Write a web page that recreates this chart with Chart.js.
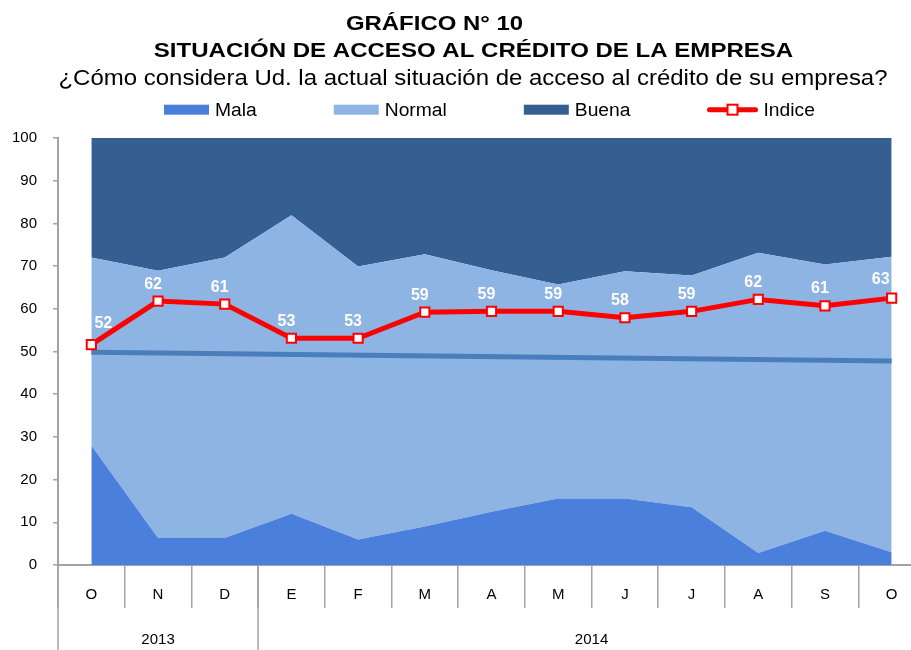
<!DOCTYPE html>
<html>
<head>
<meta charset="utf-8">
<script src="https://cdn.jsdelivr.net/npm/chart.js@4.4.0/dist/chart.umd.min.js"></script>
<style>
  html, body { margin: 0; padding: 0; overflow: hidden; background: #fff; }
  #contenedor { width: 940px; height: 650px; }
</style>
</head>
<body>
<div id="contenedor"><canvas id="grafico10"></canvas></div>
<script>
// datos
const meses = ['O', 'N', 'D', 'E', 'F', 'M', 'A', 'M', 'J', 'J', 'A', 'S', 'O'];
const anios = ['2013', '2014'];
const mesesPorAnio = [3, 10];

const mala   = [28, 6.3, 6.3, 12, 6, 9, 12.5, 15.6, 15.6, 13.5, 2.8, 8, 3];
const normal = [44, 62.6, 65.7, 69.9, 63.9, 63.8, 56.5, 50.1, 53.2, 54.3, 70.3, 62.4, 69.2];
const buena  = [28, 31.1, 28, 18.1, 30.1, 27.2, 31, 34.3, 31.2, 32.2, 26.9, 29.6, 27.8];
const indice = [51.6, 61.8, 61.1, 53.1, 53.1, 59.2, 59.4, 59.4, 57.9, 59.4, 62.2, 60.7, 62.5];
// linea de tendencia: solo extremos
const tendencia = [49.8, null, null, null, null, null, null, null, null, null, null, null, 47.8];

const yMin = 0, yMax = 100, yPaso = 10;

const titulo1 = 'GRÁFICO N° 10';
const titulo2 = 'SITUACIÓN DE ACCESO AL CRÉDITO DE LA EMPRESA';
const subtitulo = '¿Cómo considera Ud. la actual situación de acceso al crédito de su empresa?';

const FUENTE = 'Arial, "Liberation Sans", sans-serif';
const GRIS = '#a3a3a3';

// texto estirado en horizontal (el original esta ensanchado)
function textoAncho(ctx, txt, x, y, sx, align) {
  ctx.save();
  ctx.translate(x, y);
  ctx.scale(sx, 1);
  ctx.textAlign = align || 'center';
  ctx.fillText(txt, 0, 0);
  ctx.restore();
  return ctx.measureText(txt).width * sx;
}

const textosPlugin = {
  id: 'textos',
  afterDraw(chart) {
    const ctx = chart.ctx;
    ctx.save();
    ctx.fillStyle = '#000';
    ctx.textBaseline = 'alphabetic';
    ctx.font = 'bold 21px ' + FUENTE;
    textoAncho(ctx, titulo1, 434.5, 30, 1.14);
    textoAncho(ctx, titulo2, 473.5, 57, 1.145);
    ctx.font = '22px ' + FUENTE;
    textoAncho(ctx, subtitulo, 473, 85, 1.09);

    // leyenda
    ctx.font = '18px ' + FUENTE;
    let x = 164;
    const yc = 109.7;
    chart.data.datasets.forEach(ds => {
      if (!ds.label) return;
      let w = 45;
      if (ds.fill) {
        ctx.fillStyle = ds.backgroundColor;
        ctx.fillRect(x, yc - 5, 45, 10);
      } else {
        w = 50;
        ctx.strokeStyle = ds.borderColor;
        ctx.lineWidth = 5;
        ctx.lineCap = 'round';
        ctx.beginPath();
        ctx.moveTo(x + 2, yc);
        ctx.lineTo(x + w - 2, yc);
        ctx.stroke();
        ctx.fillStyle = '#fff';
        ctx.fillRect(x + w / 2 - 5, yc - 5, 10, 10);
        ctx.lineWidth = 2;
        ctx.strokeRect(x + w / 2 - 5, yc - 5, 10, 10);
      }
      ctx.fillStyle = '#000';
      const tw = textoAncho(ctx, ds.label, x + w + 6, 116, 1.07, 'left');
      x += w + 6 + tw + 77;
    });
    ctx.restore();
  }
};

// etiquetas del indice
const etiquetasPlugin = {
  id: 'etiquetasIndice',
  afterDatasetsDraw(chart) {
    const meta = chart.getDatasetMeta(3);
    const ctx = chart.ctx;
    const ult = meta.data.length - 1;
    ctx.save();
    ctx.font = 'bold 16px ' + FUENTE;
    ctx.fillStyle = '#fff';
    ctx.textAlign = 'center';
    ctx.textBaseline = 'middle';
    meta.data.forEach((p, i) => {
      let dx = -5, dy = -17;
      if (i === 0) { dx = 12; dy = -21; }
      if (i === ult) { dx = -11; dy = -19; }
      ctx.fillText(String(Math.round(indice[i])), p.x + dx, p.y + dy);
    });
    ctx.restore();
  }
};

// eje de anios debajo de los meses
const aniosPlugin = {
  id: 'ejeAnios',
  afterDraw(chart) {
    const xs = chart.scales.x;
    const ctx = chart.ctx;
    const paso = (xs.getPixelForValue(1) - xs.getPixelForValue(0));
    let inicio = xs.left;
    ctx.save();
    ctx.strokeStyle = GRIS;
    ctx.lineWidth = 1.5;
    ctx.fillStyle = '#000';
    ctx.font = '15px ' + FUENTE;
    ctx.textAlign = 'center';
    ctx.textBaseline = 'middle';
    let idx = 0;
    anios.forEach((a, k) => {
      const fin = k === anios.length - 1 ? xs.right : xs.getPixelForValue(idx + mesesPorAnio[k] - 1) + paso / 2;
      ctx.beginPath();
      ctx.moveTo(inicio, xs.top);
      ctx.lineTo(inicio, chart.height);
      ctx.stroke();
      ctx.fillText(a, (inicio + fin) / 2, 640);
      idx += mesesPorAnio[k];
      inicio = fin;
    });
    ctx.restore();
  }
};

new Chart(document.getElementById('grafico10'), {
  type: 'line',
  data: {
    labels: meses,
    datasets: [
      { label: 'Mala', data: mala, fill: 'origin', backgroundColor: '#4a7fdb', borderWidth: 0, pointRadius: 0, order: 2 },
      { label: 'Normal', data: normal, fill: '-1', backgroundColor: '#8eb4e3', borderWidth: 0, pointRadius: 0, order: 3 },
      { label: 'Buena', data: buena, fill: '-1', backgroundColor: '#365f91', borderWidth: 0, pointRadius: 0, order: 4 },
      {
        label: 'Indice', data: indice, stack: 'indice', fill: false,
        borderColor: '#ff0000', borderWidth: 5,
        pointStyle: 'rect', pointRadius: 6.5, pointBorderWidth: 2,
        pointBackgroundColor: '#ffffff', pointBorderColor: '#ff0000', order: 0
      },
      {
        label: '', data: tendencia, stack: 'tendencia', fill: false, spanGaps: true,
        borderColor: '#4a7ebb', borderWidth: 5, pointRadius: 0, order: 1
      }
    ]
  },
  options: {
    responsive: true,
    maintainAspectRatio: false,
    animation: false,
    events: [],
    layout: { padding: { top: 138, right: 15, left: 0, bottom: 0 } },
    plugins: {
      legend: { display: false },
      title: { display: false },
      tooltip: { enabled: false }
    },
    scales: {
      x: {
        offset: true,
        grid: { offset: true, drawOnChartArea: false, tickLength: 43, color: GRIS, lineWidth: 1.5 },
        border: { color: GRIS, width: 2 },
        ticks: { padding: -22, autoSkip: false, maxRotation: 0, color: '#000', font: { family: FUENTE, size: 15 } },
        afterFit(s) { s.height = 85; }
      },
      y: {
        stacked: true,
        min: yMin,
        max: yMax,
        ticks: { stepSize: yPaso, padding: 16, color: '#000', font: { family: FUENTE, size: 15 } },
        grid: { drawOnChartArea: false, tickLength: 5, color: GRIS, lineWidth: 1.5 },
        border: { color: GRIS, width: 2 },
        afterFit(s) { s.width = 58; }
      }
    }
  },
  plugins: [textosPlugin, etiquetasPlugin, aniosPlugin]
});
</script>
</body>
</html>
